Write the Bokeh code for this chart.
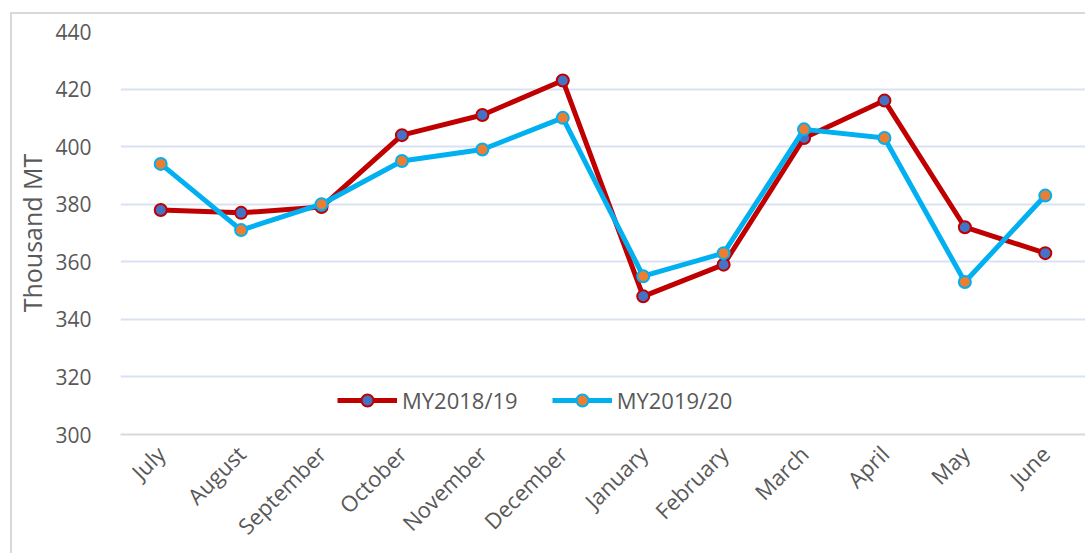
from bokeh.plotting import figure
from bokeh.models import Range1d, FactorRange, Legend, LegendItem, SingleIntervalTicker, InlineStyleSheet
from bokeh.embed import file_html
from bokeh.resources import INLINE
import math

months = ["July", "August", "September", "October", "November", "December",
          "January", "February", "March", "April", "May", "June"]
my1819 = [378, 377, 379, 404, 411, 423, 348, 359, 403, 416, 372, 363]
my1920 = [394, 371, 380, 395, 399, 410, 355, 363, 406, 403, 353, 383]

FONT = "Open Sans"
GRAY = "#595959"

border_css = InlineStyleSheet(css="""
:host { position: relative; }
:host::after {
  content: "";
  position: absolute;
  left: 10px; top: 12px; right: -20px; bottom: -20px;
  border-left: 2px solid #D9D9D9;
  border-top: 2px solid #D9D9D9;
  pointer-events: none;
  z-index: 10;
}
""")

p = figure(width=1085, height=553, x_range=FactorRange(*months),
           y_range=Range1d(300, 440), output_backend="svg", toolbar_location=None,
           min_border_left=120, min_border_right=0, min_border_top=31, min_border_bottom=119,
           stylesheets=[border_css])
p.outline_line_color = None
p.background_fill_color = "white"
p.border_fill_color = "white"

p.xgrid.grid_line_color = None
p.ygrid.grid_line_color = "#D9E1F2"
p.ygrid.grid_line_width = 2
p.yaxis.ticker = SingleIntervalTicker(interval=20)
p.yaxis.axis_line_color = None
p.yaxis.major_tick_line_color = None
p.yaxis.minor_tick_line_color = None
p.yaxis.major_label_text_font = FONT
p.yaxis.major_label_text_font_size = "21px"
p.yaxis.major_label_text_color = GRAY
p.yaxis.major_label_standoff = 23
p.yaxis.axis_label = "Thousand MT"
p.yaxis.axis_label_text_font = FONT
p.yaxis.axis_label_text_font_size = "25px"
p.yaxis.axis_label_text_font_style = "normal"
p.yaxis.axis_label_text_color = GRAY
p.yaxis.axis_label_standoff = 3

p.xaxis.axis_line_color = "#D9D9D9"
p.xaxis.axis_line_width = 2
p.xaxis.major_tick_line_color = None
p.xaxis.minor_tick_line_color = None
p.xaxis.major_label_orientation = math.pi / 4
p.xaxis.major_label_text_font = FONT
p.xaxis.major_label_text_font_size = "22px"
p.xaxis.major_label_text_color = GRAY
p.xaxis.major_label_standoff = 9

l1 = p.line(months, my1819, line_color="#C00000", line_width=5)
s1 = p.scatter(months, my1819, size=12, fill_color="#4472C4", line_color="#C00000", line_width=2)
l2 = p.line(months, my1920, line_color="#00B0F0", line_width=5)
s2 = p.scatter(months, my1920, size=12, fill_color="#ED7D31", line_color="#00B0F0", line_width=2)

legend = Legend(items=[LegendItem(label="MY2018/19", renderers=[l1, s1]),
                       LegendItem(label="MY2019/20", renderers=[l2, s2])],
                orientation="horizontal", location=(217, 19),
                background_fill_alpha=0, border_line_color=None,
                label_text_font=FONT, label_text_font_size="22px", label_text_color=GRAY,
                glyph_width=60, glyph_height=30, spacing=34, padding=4, margin=0,
                label_standoff=5)
p.add_layout(legend, "center")

open("out.html", "w").write(file_html(p, INLINE))
